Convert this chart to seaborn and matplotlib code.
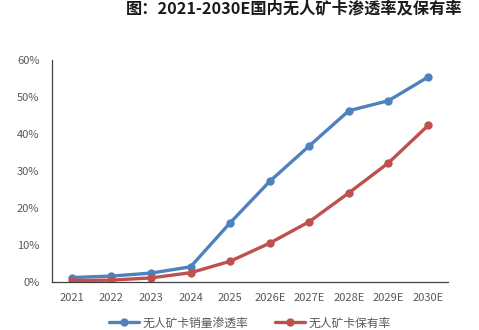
import matplotlib
matplotlib.use("Agg")
import matplotlib.pyplot as plt
from matplotlib.ticker import FixedLocator, PercentFormatter
import seaborn as sns
import pandas as pd
import numpy as np

years = ["2021", "2022", "2023", "2024", "2025", "2026E", "2027E", "2028E", "2029E", "2030E"]
sales_penetration = [1.2, 1.6, 2.4, 4.1, 16.0, 27.2, 36.8, 46.3, 49.0, 55.4]
ownership_rate = [0.4, 0.5, 1.1, 2.5, 5.6, 10.5, 16.3, 24.1, 32.2, 42.3]
series_names = ["无人矿卡销量渗透率", "无人矿卡保有率"]

sns.set_theme(style="white")
plt.rcParams["font.family"] = ["Noto Sans CJK SC", "DejaVu Sans"]

df = pd.DataFrame({
    "year": years * 2,
    "x": list(range(len(years))) * 2,
    "value": sales_penetration + ownership_rate,
    "series": [series_names[0]] * len(years) + [series_names[1]] * len(years),
})

fig = plt.figure(figsize=(4.79, 3.30), dpi=100)
ax = fig.add_axes([0.1086, 0.1455, 0.8264, 0.6727])

palette = {series_names[0]: "#4F81BD", series_names[1]: "#C0504D"}
sns.lineplot(data=df, x="x", y="value", hue="series", palette=palette,
             marker="o", markersize=6, markeredgewidth=0, linewidth=2.4,
             ax=ax, legend=True)

ax.set_xlim(-0.5, len(years) - 0.5)
ax.set_ylim(0, 60)
ax.set_yticks(np.arange(0, 61, 10))
ax.yaxis.set_major_formatter(PercentFormatter(decimals=0))
ax.set_xticks(range(len(years)))
ax.set_xticklabels(years)
ax.xaxis.set_minor_locator(FixedLocator(np.arange(-0.5, len(years), 1.0)))
ax.tick_params(axis="x", which="major", length=0, pad=8, labelsize=8, labelcolor="#595959")
ax.tick_params(axis="x", which="minor", length=4, width=0.8, direction="in", color="#404040")
ax.tick_params(axis="y", which="major", length=4, width=0.8, direction="in", color="#404040",
               pad=9, labelsize=8, labelcolor="#595959")
ax.set_xlabel("")
ax.set_ylabel("")

for side in ["top", "right"]:
    ax.spines[side].set_visible(False)
for side in ["left", "bottom"]:
    ax.spines[side].set_color("#404040")
    ax.spines[side].set_linewidth(0.9)

handles, labels = ax.get_legend_handles_labels()
ax.legend(handles, labels, loc="center", bbox_to_anchor=(0.5, -0.185), ncol=2,
          frameon=False, fontsize=8.5, labelcolor="#595959", handlelength=2.6,
          columnspacing=2.2, handletextpad=0.3, borderpad=0.2)

fig.text(0.615, 0.974, "图：2021-2030E国内无人矿卡渗透率及保有率", ha="center", va="center",
         fontsize=11.7, fontweight="bold", color="#1a1a1a")

fig.savefig("out.png", dpi=100, facecolor="white")
